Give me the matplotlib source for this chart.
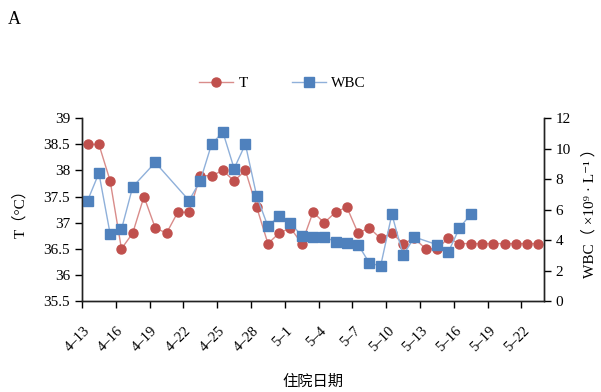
import matplotlib
matplotlib.use("Agg")
import matplotlib.pyplot as plt
from matplotlib.ticker import FixedLocator

# admission days, 4-13 .. 5-23
dates = ["4-13", "4-14", "4-15", "4-16", "4-17", "4-18", "4-19", "4-20", "4-21", "4-22",
         "4-23", "4-24", "4-25", "4-26", "4-27", "4-28", "4-29", "4-30", "5-1", "5-2",
         "5-3", "5-4", "5-5", "5-6", "5-7", "5-8", "5-9", "5-10", "5-11", "5-12",
         "5-13", "5-14", "5-15", "5-16", "5-17", "5-18", "5-19", "5-20", "5-21", "5-22", "5-23"]

# body temperature, degC
temp = [38.5, 38.5, 37.8, 36.5, 36.8, 37.5, 36.9, 36.8, 37.2, 37.2,
        37.9, 37.9, 38.0, 37.8, 38.0, 37.3, 36.6, 36.8, 36.9, 36.6,
        37.2, 37.0, 37.2, 37.3, 36.8, 36.9, 36.7, 36.8, 36.6, 36.7,
        36.5, 36.5, 36.7, 36.6, 36.6, 36.6, 36.6, 36.6, 36.6, 36.6, 36.6]

# white blood cell count, x10^9/L (not measured every day)
wbc_dates = ["4-13", "4-14", "4-15", "4-16", "4-17", "4-19", "4-22", "4-23", "4-24", "4-25",
             "4-26", "4-27", "4-28", "4-29", "4-30", "5-1", "5-2", "5-3", "5-4", "5-5",
             "5-6", "5-7", "5-8", "5-9", "5-10", "5-11", "5-12", "5-14", "5-15", "5-16", "5-17"]
wbc = [6.6, 8.4, 4.4, 4.7, 7.5, 9.1, 6.6, 7.9, 10.3, 11.1,
       8.7, 10.3, 6.9, 4.9, 5.6, 5.1, 4.3, 4.2, 4.2, 3.9,
       3.8, 3.7, 2.5, 2.3, 5.7, 3.0, 4.2, 3.7, 3.2, 4.8, 5.7]

tick_dates = dates[::3]

plt.rcParams["font.family"] = ["Liberation Serif", "Noto Sans CJK SC", "DejaVu Sans"]

red = "#C0504D"
blue = "#4F81BD"

x_t = [dates.index(d) for d in dates]
x_w = [dates.index(d) for d in wbc_dates]

fig = plt.figure(figsize=(6.01, 3.92), dpi=100)
ax = fig.add_axes([82 / 601, 1 - 301 / 392, (544 - 82) / 601, (301 - 118.3) / 392])
ax2 = ax.twinx()

lt, = ax.plot(x_t, temp, color="#D98C8A", lw=1.0, marker="o", ms=6.5,
              mfc=red, mec=red, label="T")
lw, = ax2.plot(x_w, wbc, color="#8FB0DA", lw=1.0, marker="s", ms=6.5,
               mfc=blue, mec=blue, label="WBC")

ax.set_xlim(-0.5, len(dates) - 0.5)
ax.set_ylim(35.5, 39)
ax.set_yticks([35.5, 36, 36.5, 37, 37.5, 38, 38.5, 39])
ax.set_yticklabels(["35.5", "36", "36.5", "37", "37.5", "38", "38.5", "39"])
ax2.set_ylim(0, 12)
ax2.set_yticks(range(0, 13, 2))

pos = [dates.index(d) for d in tick_dates]
ax.xaxis.set_major_locator(FixedLocator(pos))
ax.set_xticklabels([d.replace("-", "–") for d in tick_dates], rotation=45,
                   ha="right", va="center", rotation_mode="anchor")
ax.xaxis.set_minor_locator(FixedLocator([p - 0.5 for p in pos]))
ax.tick_params(axis="x", which="major", length=0, pad=20, labelsize=10.5)
ax.tick_params(axis="x", which="minor", direction="out", length=5, width=1)
ax.tick_params(axis="y", direction="out", length=5, width=1, labelsize=11)
ax2.tick_params(axis="y", direction="out", length=5, width=1, labelsize=11)

for a in (ax, ax2):
    a.spines["top"].set_visible(False)
    for s in ("left", "right", "bottom"):
        a.spines[s].set_linewidth(1.0)
        a.spines[s].set_color("#222222")

ax.set_ylabel("T（°C）", fontsize=11, labelpad=12)
ax2.set_ylabel("WBC（ ×10⁹ · L⁻¹ ）", fontsize=11, labelpad=8)
ax.set_xlabel("住院日期", fontsize=11, labelpad=15)

fig.legend(handles=[lt, lw], loc="center", bbox_to_anchor=(0.47, 0.787),
           ncol=2, frameon=False, fontsize=11, handlelength=2.2,
           handletextpad=0.35, columnspacing=2.9)

fig.text(0.013, 0.94, "A", fontsize=13)

fig.savefig("out.png", dpi=100)
